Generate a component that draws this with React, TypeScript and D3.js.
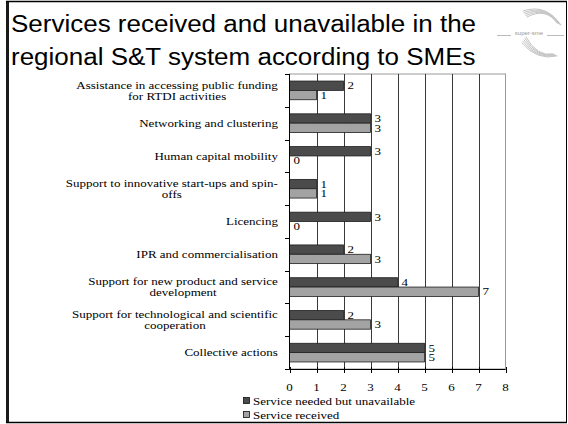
import React, { useEffect, useRef } from "react";
import * as d3 from "d3";

const categories = [
  "Assistance in accessing public funding\nfor RTDI activities",
  "Networking and clustering",
  "Human capital mobility",
  "Support to innovative start-ups and spin-\noffs",
  "Licencing",
  "IPR and commercialisation",
  "Support for new product and service\ndevelopment",
  "Support for technological and scientific\ncooperation",
  "Collective actions",
];
const unavailable = [2, 3, 3, 1, 3, 2, 4, 2, 5];
const received = [1, 3, 0, 1, 0, 3, 7, 3, 5];
const xTicks = [0, 1, 2, 3, 4, 5, 6, 7, 8];
const seriesNames = ["Service needed but unavailable", "Service received"];
const titleLines = [
  "Services received and unavailable in the",
  "regional S&T system according to SMEs",
];

const W = 568;
const H = 424;
const SX = 1.24;
const TSX = 1.13;
const SERIF = "Liberation Serif, DejaVu Serif, Times New Roman, serif";
const SANS = "Liberation Sans, Arial, sans-serif";
const DARK = "#4b4b4b";
const LIGHT = "#a3a3a3";

export default function App() {
  const ref = useRef<SVGSVGElement | null>(null);

  useEffect(() => {
    const svg = d3.select(ref.current);
    svg.selectAll("*").remove();

    svg.append("rect").attr("width", W).attr("height", H).attr("fill", "#fff");

    // frame
    svg.append("rect").attr("x", 6).attr("y", 1).attr("width", 3).attr("height", 422).attr("fill", "#1a1a1a");
    svg.append("line").attr("x1", 6).attr("x2", 567).attr("y1", 1.5).attr("y2", 1.5).attr("stroke", "#000").attr("stroke-width", 1.5);
    svg.append("line").attr("x1", 566.5).attr("x2", 566.5).attr("y1", 1).attr("y2", 423).attr("stroke", "#000").attr("stroke-width", 1);
    svg.append("line").attr("x1", 6).attr("x2", 567).attr("y1", 422.5).attr("y2", 422.5).attr("stroke", "#000").attr("stroke-width", 1.5);

    // title
    titleLines.forEach((t, i) => {
      svg
        .append("text")
        .attr("transform", `translate(11,${32 + i * 33}) scale(${TSX},1)`)
        .attr("font-family", SANS)
        .attr("font-size", 23)
        .attr("fill", "#000")
        .text(t);
    });

    // logo
    const logo = svg.append("g").attr("fill", "none").attr("stroke-linecap", "round");
    [0, 1, 2, 3, 4].forEach((k) => {
      logo
        .append("path")
        .attr("d", `M${523 + k} ${11 + k * 1.5} Q${546} ${3 + k} ${561 - k} ${25 - k * 0.5}`)
        .attr("stroke", "#c4c4c4")
        .attr("stroke-width", 1);
      logo
        .append("path")
        .attr("d", `M${522 + k} ${43 - k * 1.5} Q${537} ${61 - k} ${557 - k} ${56 - k * 0.5}`)
        .attr("stroke", "#c4c4c4")
        .attr("stroke-width", 1);
    });
    svg.append("line").attr("x1", 497).attr("x2", 511).attr("y1", 35.5).attr("y2", 35.5).attr("stroke", "#bbb");
    svg.append("line").attr("x1", 547).attr("x2", 564).attr("y1", 35.5).attr("y2", 35.5).attr("stroke", "#bbb");
    svg
      .append("text")
      .attr("x", 529)
      .attr("y", 35)
      .attr("text-anchor", "middle")
      .attr("font-family", SANS)
      .attr("font-size", 6)
      .attr("fill", "#999")
      .text("super-sme");

    // scales
    const x = d3.scaleLinear().domain([0, 8]).range([289.5, 505.5]);
    const y = d3.scaleBand<number>().domain(d3.range(categories.length)).range([74, 369]).paddingInner(0).paddingOuter(0);
    const bw = y.bandwidth();
    const sub = d3.scaleBand<number>().domain([0, 1]).range([bw * 0.215, bw * 0.785]);

    // plot area border
    svg.append("rect").attr("x", x(0)).attr("y", 74).attr("width", x(8) - x(0)).attr("height", 295).attr("fill", "#fff").attr("stroke", "#9a9a9a").attr("stroke-width", 1);

    // gridlines
    svg
      .append("g")
      .selectAll("line")
      .data(xTicks.filter((t) => t > 0 && t < 8))
      .join("line")
      .attr("x1", (d) => Math.round(x(d)) + 0.5)
      .attr("x2", (d) => Math.round(x(d)) + 0.5)
      .attr("y1", 74)
      .attr("y2", 369)
      .attr("stroke", "#3a3a3a")
      .attr("stroke-width", 1);

    // bars
    const series = [unavailable, received];
    const colors = [DARK, LIGHT];
    series.forEach((vals, si) => {
      svg
        .append("g")
        .selectAll("rect")
        .data(vals)
        .join("rect")
        .attr("x", x(0))
        .attr("y", (_, i) => (y(i) as number) + (sub(si) as number))
        .attr("width", (d) => x(d) - x(0))
        .attr("height", sub.bandwidth())
        .attr("fill", colors[si])
        .attr("stroke", (d) => (d > 0 ? "#1e1e1e" : "none"))
        .attr("stroke-width", 0.8);

      svg
        .append("g")
        .selectAll("text")
        .data(vals)
        .join("text")
        .attr("transform", (d, i) => `translate(${x(d) + 4},${(y(i) as number) + (sub(si) as number) + sub.bandwidth() / 2}) scale(${SX},1)`)
        .attr("dy", "0.35em")
        .attr("font-family", SERIF)
        .attr("font-size", 10.5)
        .attr("fill", "#000")
        .text((d) => String(d));
    });

    // left axis
    svg.append("line").attr("x1", 289.5).attr("x2", 289.5).attr("y1", 74).attr("y2", 369.5).attr("stroke", "#000");
    d3.range(categories.length + 1).forEach((i) => {
      const yy = Math.round(74 + i * bw) + 0.5;
      svg.append("line").attr("x1", 285).attr("x2", 289.5).attr("y1", yy).attr("y2", yy).attr("stroke", "#000");
    });
    // bottom axis
    svg.append("line").attr("x1", 289.5).attr("x2", 505.5).attr("y1", 369.5).attr("y2", 369.5).attr("stroke", "#000");
    xTicks.forEach((t) => {
      const xx = Math.round(x(t)) + 0.5;
      svg.append("line").attr("x1", xx).attr("x2", xx).attr("y1", 367).attr("y2", 373).attr("stroke", "#000");
      svg
        .append("text")
        .attr("transform", `translate(${x(t)},${387}) scale(${SX},1)`)
        .attr("dy", "0.35em")
        .attr("text-anchor", "middle")
        .attr("font-family", SERIF)
        .attr("font-size", 10.5)
        .text(String(t));
    });

    // category labels
    categories.forEach((c, i) => {
      const lines = c.split("\n");
      const cy = (y(i) as number) + bw / 2;
      const lh = 11;
      const g = svg.append("g");
      const texts = lines.map((ln) =>
        g
          .append("text")
          .attr("font-family", SERIF)
          .attr("font-size", 10.5)
          .attr("dy", "0.35em")
          .attr("text-anchor", "middle")
          .text(ln)
      );
      const widths = texts.map((t) => (t.node() as SVGTextElement).getComputedTextLength());
      const maxW = Math.max(...widths) * SX;
      const cx = 278 - maxW / 2;
      texts.forEach((t, j) => {
        const ly = cy + (j - (lines.length - 1) / 2) * lh;
        t.attr("transform", `translate(${cx},${ly}) scale(${SX},1)`);
      });
    });

    // legend
    seriesNames.forEach((n, i) => {
      const ly = 401 + i * 14;
      svg.append("rect").attr("x", 243.5).attr("y", ly - 3.5).attr("width", 6).attr("height", 6).attr("fill", colors[i]).attr("stroke", "#111").attr("stroke-width", 0.8);
      svg
        .append("text")
        .attr("transform", `translate(253,${ly}) scale(${SX},1)`)
        .attr("dy", "0.35em")
        .attr("font-family", SERIF)
        .attr("font-size", 10.5)
        .text(n);
    });
  }, []);

  return (
    <svg
      ref={ref}
      width={W}
      height={H}
      style={{ position: "absolute", left: 0, top: 0, display: "block" }}
    />
  );
}
